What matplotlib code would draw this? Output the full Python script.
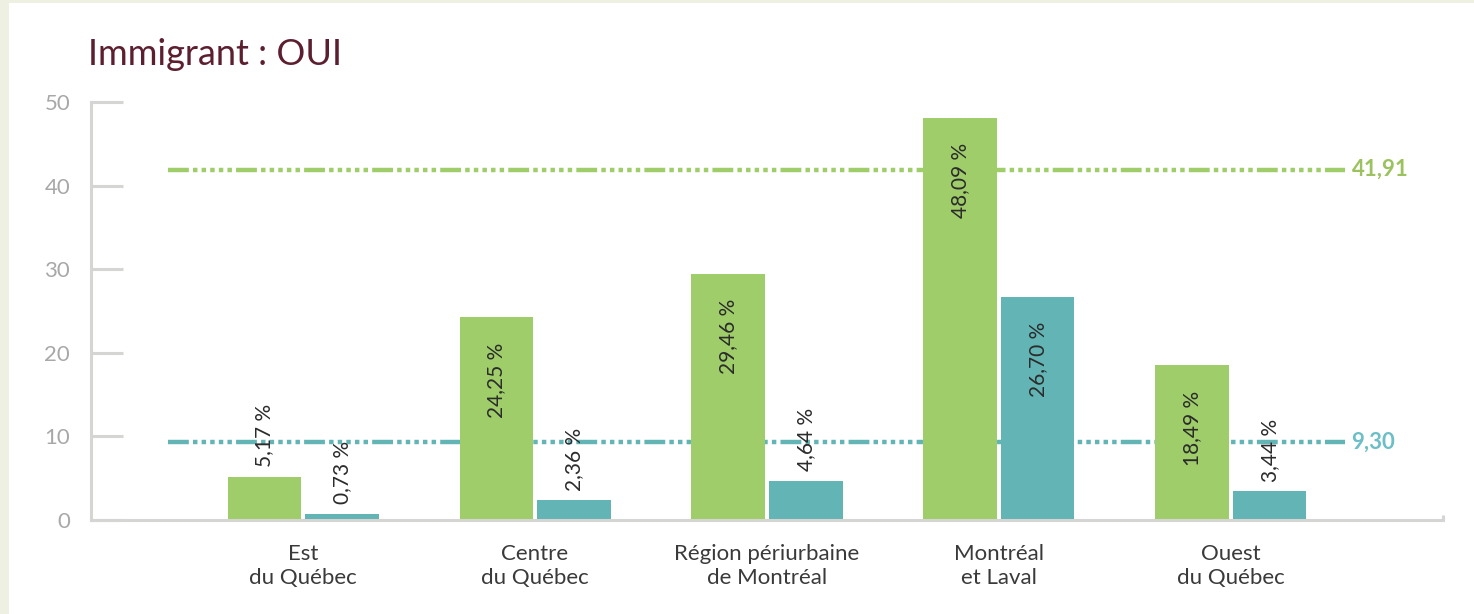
import matplotlib
matplotlib.use("Agg")
import matplotlib.pyplot as plt
from matplotlib.patches import Rectangle
import numpy as np

# data
regions = ["Est\ndu Québec", "Centre\ndu Québec", "Région périurbaine\nde Montréal",
           "Montréal\net Laval", "Ouest\ndu Québec"]
green_vals = [5.17, 24.25, 29.46, 48.09, 18.49]
teal_vals = [0.73, 2.36, 4.64, 26.70, 3.44]
green_ref = 41.91
teal_ref = 9.30
yticks = [0, 10, 20, 30, 40, 50]

green = "#9ecd6a"
teal = "#63b4b5"
axis_grey = "#d5d5d3"

plt.rcParams["font.family"] = ["Lato", "DejaVu Sans"]
plt.rcParams["lines.scale_dashes"] = False

fig = plt.figure(figsize=(14.74, 6.14), dpi=100)
fig.patch.set_facecolor("#eef1e1")
# white panel with the thin border on top and left
fig.patches.append(Rectangle((9 / 1474, 0), 1, 1 - 3 / 614, transform=fig.transFigure,
                             facecolor="white", edgecolor="none", zorder=-5))

ax = fig.add_axes([91 / 1474, 1 - 520 / 614, (1443 - 91) / 1474, (520 - 102) / 614])
ax.set_facecolor("none")

x = np.arange(len(regions))
w = 0.315
off = 0.168

# reference lines behind the bars
pattern = (0, (15, 3, 3.2, 3, 3.2, 3, 3.2, 3, 3.2, 3, 3.2, 3))
for ref, col, tcol in [(green_ref, green, "#9bc25e"), (teal_ref, teal, "#6cbfc6")]:
    ax.plot([-0.58, 4.49], [ref, ref], color=col, lw=3.2, ls=pattern,
            solid_capstyle="butt", dash_capstyle="butt", zorder=1)
    ax.annotate(f"{ref:.2f}".replace(".", ","), (4.49, ref), xytext=(5, 0),
                textcoords="offset points", va="center", ha="left", color=tcol,
                fontsize=16, fontweight="bold")

b1 = ax.bar(x - off, green_vals, w, color=green, zorder=2)
b2 = ax.bar(x + off, teal_vals, w, color=teal, zorder=2)

# value labels: inside near the top for tall bars, above for short ones
for bars, vals in [(b1, green_vals), (b2, teal_vals)]:
    for bar, v in zip(bars, vals):
        txt = f"{v:.2f} %".replace(".", ",")
        cx = bar.get_x() + bar.get_width() / 2
        if v > 12:
            ax.annotate(txt, (cx, v), xytext=(0, -18), textcoords="offset points",
                        rotation=90, ha="center", va="top", fontsize=15, color="#2b2b2b")
        else:
            ax.annotate(txt, (cx, v), xytext=(0, 7), textcoords="offset points",
                        rotation=90, ha="center", va="bottom", fontsize=15, color="#2b2b2b")

ax.set_xlim(-0.914, 4.914)
ax.set_ylim(0, 50)
ax.set_xticks(x)
ax.set_xticklabels(regions, fontsize=16, color="#3a3a3a", linespacing=1.25)
ax.set_yticks(yticks)
ax.set_yticklabels([str(t) for t in yticks], fontsize=16, color="#a8a8a8")

for s in ["top", "right"]:
    ax.spines[s].set_visible(False)
for s in ["left", "bottom"]:
    ax.spines[s].set_color(axis_grey)
    ax.spines[s].set_linewidth(2.2)
ax.tick_params(axis="y", direction="in", length=23, width=2.2, color=axis_grey, pad=15)
ax.tick_params(axis="x", length=0, pad=17)
# small end tick on the right of the baseline
ax.plot([1, 1], [0, 0.012], transform=ax.transAxes, color=axis_grey, lw=2.2,
        clip_on=False, solid_capstyle="butt")

fig.text(88 / 1474, 1 - 65 / 614, "Immigrant : OUI", fontsize=26, color="#5c1f30",
         va="baseline", ha="left")

fig.savefig("out.png", dpi=100, facecolor=fig.get_facecolor())
